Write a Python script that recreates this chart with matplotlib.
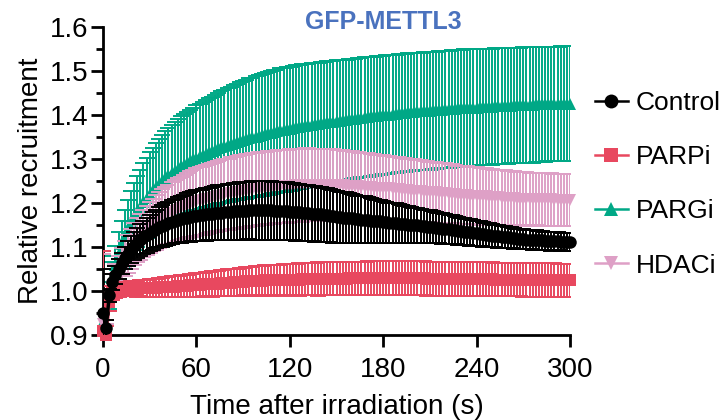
import numpy as np
import matplotlib
matplotlib.use("Agg")
from matplotlib import pyplot as plt
from matplotlib.lines import Line2D

plt.rcParams['font.family'] = ['Liberation Sans', 'DejaVu Sans']

# sampling times (s), one frame every 2 s
time = np.arange(0, 301, 2)

control_mean = [
    0.950,
    0.915, 0.990, 1.020, 1.036, 1.050, 1.063, 1.075, 1.085, 1.094, 1.102,
    1.109, 1.116, 1.122, 1.127, 1.132, 1.137, 1.141, 1.145, 1.148, 1.151,
    1.154, 1.157, 1.159, 1.161, 1.163, 1.165, 1.167, 1.168, 1.170, 1.171,
    1.172, 1.173, 1.174, 1.175, 1.176, 1.177, 1.178, 1.178, 1.179, 1.180,
    1.180, 1.181, 1.181, 1.182, 1.182, 1.182, 1.183, 1.183, 1.183, 1.183,
    1.183, 1.183, 1.183, 1.183, 1.182, 1.182, 1.182, 1.181, 1.181, 1.180,
    1.180, 1.179, 1.179, 1.178, 1.177, 1.177, 1.176, 1.175, 1.174, 1.174,
    1.173, 1.172, 1.171, 1.170, 1.169, 1.168, 1.167, 1.167, 1.166, 1.165,
    1.164, 1.163, 1.162, 1.162, 1.161, 1.160, 1.159, 1.158, 1.158, 1.157,
    1.156, 1.155, 1.155, 1.154, 1.153, 1.152, 1.152, 1.151, 1.150, 1.149,
    1.149, 1.148, 1.147, 1.146, 1.146, 1.145, 1.144, 1.143, 1.142, 1.141,
    1.140, 1.139, 1.138, 1.137, 1.136, 1.135, 1.134, 1.133, 1.132, 1.131,
    1.130, 1.129, 1.128, 1.127, 1.126, 1.125, 1.124, 1.123, 1.122, 1.122,
    1.121, 1.120, 1.119, 1.119, 1.118, 1.117, 1.117, 1.116, 1.116, 1.115,
    1.115, 1.114, 1.114, 1.113, 1.113, 1.113, 1.112, 1.112, 1.112, 1.112,
]
control_sem = [
    0.100,
    0.020, 0.015, 0.018, 0.020, 0.022, 0.024, 0.026, 0.028, 0.030, 0.032,
    0.034, 0.036, 0.038, 0.040, 0.041, 0.043, 0.044, 0.046, 0.047, 0.048,
    0.049, 0.050, 0.051, 0.052, 0.053, 0.054, 0.055, 0.056, 0.057, 0.058,
    0.058, 0.059, 0.060, 0.060, 0.061, 0.061, 0.062, 0.062, 0.063, 0.063,
    0.064, 0.064, 0.064, 0.065, 0.065, 0.065, 0.065, 0.066, 0.066, 0.066,
    0.066, 0.066, 0.066, 0.066, 0.066, 0.066, 0.066, 0.066, 0.066, 0.065,
    0.065, 0.065, 0.065, 0.064, 0.064, 0.064, 0.063, 0.063, 0.062, 0.062,
    0.061, 0.061, 0.060, 0.060, 0.059, 0.058, 0.058, 0.057, 0.056, 0.056,
    0.055, 0.054, 0.053, 0.053, 0.052, 0.051, 0.050, 0.049, 0.049, 0.048,
    0.047, 0.046, 0.045, 0.045, 0.044, 0.043, 0.042, 0.042, 0.041, 0.040,
    0.040, 0.039, 0.038, 0.038, 0.037, 0.036, 0.036, 0.035, 0.035, 0.034,
    0.033, 0.033, 0.032, 0.032, 0.031, 0.031, 0.030, 0.030, 0.029, 0.029,
    0.028, 0.028, 0.027, 0.027, 0.026, 0.026, 0.026, 0.025, 0.025, 0.024,
    0.024, 0.024, 0.023, 0.023, 0.023, 0.022, 0.022, 0.022, 0.022, 0.021,
    0.021, 0.021, 0.021, 0.021, 0.020, 0.020, 0.020, 0.020, 0.020, 0.020,
]

parpi_mean = [
    0.910,
    0.900, 0.975, 0.995, 1.000, 1.002, 1.003, 1.004, 1.004, 1.005, 1.005,
    1.005, 1.006, 1.006, 1.006, 1.007, 1.007, 1.007, 1.008, 1.008, 1.009,
    1.009, 1.010, 1.010, 1.011, 1.011, 1.012, 1.012, 1.013, 1.013, 1.014,
    1.014, 1.015, 1.015, 1.016, 1.016, 1.017, 1.017, 1.018, 1.018, 1.019,
    1.019, 1.020, 1.020, 1.021, 1.021, 1.022, 1.022, 1.022, 1.023, 1.023,
    1.023, 1.024, 1.024, 1.024, 1.025, 1.025, 1.025, 1.025, 1.026, 1.026,
    1.026, 1.026, 1.026, 1.027, 1.027, 1.027, 1.027, 1.027, 1.027, 1.028,
    1.028, 1.028, 1.028, 1.028, 1.028, 1.028, 1.028, 1.028, 1.029, 1.029,
    1.029, 1.029, 1.029, 1.029, 1.029, 1.029, 1.029, 1.029, 1.029, 1.029,
    1.029, 1.029, 1.029, 1.029, 1.029, 1.029, 1.029, 1.029, 1.029, 1.029,
    1.029, 1.029, 1.029, 1.028, 1.028, 1.028, 1.028, 1.028, 1.028, 1.028,
    1.028, 1.028, 1.028, 1.028, 1.028, 1.027, 1.027, 1.027, 1.027, 1.027,
    1.027, 1.027, 1.027, 1.027, 1.027, 1.026, 1.026, 1.026, 1.026, 1.026,
    1.026, 1.026, 1.026, 1.026, 1.025, 1.025, 1.025, 1.025, 1.025, 1.025,
    1.025, 1.025, 1.025, 1.025, 1.025, 1.024, 1.024, 1.024, 1.024, 1.024,
]
parpi_sem = [
    0.180,
    0.020, 0.020, 0.016, 0.015, 0.015, 0.015, 0.016, 0.016, 0.017, 0.017,
    0.018, 0.018, 0.019, 0.019, 0.020, 0.020, 0.021, 0.021, 0.022, 0.022,
    0.023, 0.023, 0.024, 0.024, 0.025, 0.025, 0.025, 0.026, 0.026, 0.027,
    0.027, 0.027, 0.028, 0.028, 0.029, 0.029, 0.029, 0.030, 0.030, 0.030,
    0.031, 0.031, 0.031, 0.032, 0.032, 0.032, 0.033, 0.033, 0.033, 0.034,
    0.034, 0.034, 0.034, 0.035, 0.035, 0.035, 0.035, 0.036, 0.036, 0.036,
    0.036, 0.036, 0.037, 0.037, 0.037, 0.037, 0.037, 0.037, 0.038, 0.038,
    0.038, 0.038, 0.038, 0.038, 0.038, 0.038, 0.038, 0.038, 0.038, 0.038,
    0.038, 0.038, 0.038, 0.038, 0.039, 0.039, 0.039, 0.039, 0.039, 0.039,
    0.039, 0.039, 0.039, 0.039, 0.039, 0.039, 0.039, 0.039, 0.039, 0.039,
    0.039, 0.039, 0.039, 0.039, 0.039, 0.039, 0.039, 0.039, 0.039, 0.039,
    0.039, 0.039, 0.039, 0.039, 0.039, 0.039, 0.039, 0.039, 0.039, 0.039,
    0.039, 0.039, 0.039, 0.039, 0.038, 0.038, 0.038, 0.038, 0.038, 0.038,
    0.038, 0.038, 0.038, 0.038, 0.038, 0.038, 0.038, 0.038, 0.038, 0.038,
    0.038, 0.038, 0.038, 0.038, 0.038, 0.038, 0.038, 0.038, 0.038, 0.038,
]

pargi_mean = [
    0.930,
    0.905, 0.990, 1.030, 1.060, 1.085, 1.106, 1.125, 1.141, 1.156, 1.169,
    1.181, 1.192, 1.202, 1.212, 1.221, 1.229, 1.237, 1.244, 1.251, 1.257,
    1.263, 1.268, 1.273, 1.278, 1.283, 1.287, 1.291, 1.295, 1.299, 1.303,
    1.306, 1.309, 1.312, 1.315, 1.318, 1.321, 1.324, 1.327, 1.329, 1.332,
    1.334, 1.337, 1.339, 1.341, 1.343, 1.345, 1.347, 1.349, 1.351, 1.353,
    1.355, 1.357, 1.358, 1.360, 1.362, 1.363, 1.365, 1.366, 1.368, 1.369,
    1.370, 1.372, 1.373, 1.374, 1.375, 1.377, 1.378, 1.379, 1.380, 1.381,
    1.382, 1.383, 1.384, 1.385, 1.386, 1.387, 1.388, 1.389, 1.390, 1.391,
    1.392, 1.393, 1.394, 1.395, 1.396, 1.397, 1.397, 1.398, 1.399, 1.400,
    1.401, 1.401, 1.402, 1.403, 1.404, 1.404, 1.405, 1.406, 1.406, 1.407,
    1.408, 1.408, 1.409, 1.409, 1.410, 1.411, 1.411, 1.412, 1.412, 1.413,
    1.413, 1.414, 1.414, 1.415, 1.415, 1.416, 1.416, 1.417, 1.417, 1.417,
    1.418, 1.418, 1.419, 1.419, 1.419, 1.420, 1.420, 1.420, 1.421, 1.421,
    1.421, 1.422, 1.422, 1.422, 1.423, 1.423, 1.423, 1.423, 1.424, 1.424,
    1.424, 1.424, 1.425, 1.425, 1.425, 1.425, 1.426, 1.426, 1.426, 1.426,
]
pargi_sem = [
    0.150,
    0.020, 0.030, 0.035, 0.042, 0.048, 0.054, 0.060, 0.066, 0.071, 0.076,
    0.080, 0.084, 0.088, 0.091, 0.094, 0.097, 0.100, 0.102, 0.104, 0.106,
    0.108, 0.110, 0.111, 0.113, 0.114, 0.115, 0.116, 0.117, 0.118, 0.119,
    0.120, 0.121, 0.122, 0.123, 0.124, 0.125, 0.126, 0.127, 0.128, 0.129,
    0.130, 0.131, 0.132, 0.133, 0.134, 0.135, 0.136, 0.136, 0.137, 0.138,
    0.138, 0.139, 0.139, 0.140, 0.140, 0.140, 0.141, 0.141, 0.141, 0.141,
    0.141, 0.141, 0.141, 0.141, 0.140, 0.140, 0.140, 0.140, 0.139, 0.139,
    0.139, 0.139, 0.138, 0.138, 0.138, 0.138, 0.137, 0.137, 0.137, 0.137,
    0.136, 0.136, 0.136, 0.136, 0.136, 0.135, 0.135, 0.135, 0.135, 0.135,
    0.135, 0.135, 0.134, 0.134, 0.134, 0.134, 0.134, 0.134, 0.134, 0.134,
    0.134, 0.134, 0.134, 0.134, 0.134, 0.133, 0.133, 0.133, 0.133, 0.133,
    0.133, 0.133, 0.133, 0.133, 0.133, 0.133, 0.133, 0.133, 0.133, 0.133,
    0.132, 0.132, 0.132, 0.132, 0.132, 0.132, 0.132, 0.132, 0.132, 0.132,
    0.131, 0.131, 0.131, 0.131, 0.131, 0.131, 0.131, 0.131, 0.131, 0.131,
    0.130, 0.130, 0.130, 0.130, 0.130, 0.130, 0.130, 0.130, 0.130, 0.130,
]

hdaci_mean = [
    0.925,
    0.905, 0.980, 1.010, 1.030, 1.046, 1.060, 1.073, 1.085, 1.096, 1.106,
    1.115, 1.123, 1.131, 1.138, 1.144, 1.150, 1.156, 1.161, 1.166, 1.170,
    1.174, 1.178, 1.182, 1.185, 1.188, 1.191, 1.194, 1.197, 1.199, 1.202,
    1.204, 1.206, 1.208, 1.210, 1.212, 1.214, 1.216, 1.217, 1.219, 1.220,
    1.222, 1.223, 1.224, 1.226, 1.227, 1.228, 1.229, 1.230, 1.231, 1.232,
    1.233, 1.234, 1.235, 1.235, 1.236, 1.237, 1.237, 1.238, 1.238, 1.239,
    1.239, 1.240, 1.240, 1.240, 1.241, 1.241, 1.241, 1.241, 1.241, 1.241,
    1.241, 1.241, 1.241, 1.241, 1.240, 1.240, 1.240, 1.239, 1.239, 1.239,
    1.238, 1.238, 1.237, 1.237, 1.236, 1.236, 1.235, 1.235, 1.234, 1.234,
    1.233, 1.233, 1.232, 1.231, 1.231, 1.230, 1.230, 1.229, 1.228, 1.228,
    1.227, 1.227, 1.226, 1.225, 1.225, 1.224, 1.224, 1.223, 1.222, 1.222,
    1.221, 1.221, 1.220, 1.219, 1.219, 1.218, 1.218, 1.217, 1.217, 1.216,
    1.216, 1.215, 1.215, 1.214, 1.214, 1.213, 1.213, 1.212, 1.212, 1.211,
    1.211, 1.211, 1.210, 1.210, 1.210, 1.209, 1.209, 1.209, 1.209, 1.208,
    1.208, 1.208, 1.208, 1.208, 1.207, 1.207, 1.207, 1.207, 1.207, 1.207,
]
hdaci_sem = [
    0.160,
    0.020, 0.025, 0.028, 0.031, 0.034, 0.037, 0.040, 0.043, 0.046, 0.048,
    0.050, 0.052, 0.054, 0.056, 0.058, 0.060, 0.062, 0.063, 0.065, 0.066,
    0.067, 0.069, 0.070, 0.071, 0.072, 0.073, 0.074, 0.075, 0.076, 0.077,
    0.077, 0.078, 0.078, 0.079, 0.079, 0.080, 0.080, 0.081, 0.081, 0.081,
    0.082, 0.082, 0.082, 0.082, 0.083, 0.083, 0.083, 0.083, 0.083, 0.083,
    0.083, 0.083, 0.083, 0.083, 0.083, 0.083, 0.083, 0.083, 0.083, 0.083,
    0.083, 0.083, 0.083, 0.083, 0.083, 0.083, 0.082, 0.082, 0.082, 0.082,
    0.082, 0.081, 0.081, 0.081, 0.080, 0.080, 0.080, 0.079, 0.079, 0.079,
    0.078, 0.078, 0.077, 0.077, 0.077, 0.076, 0.076, 0.075, 0.075, 0.075,
    0.074, 0.074, 0.073, 0.073, 0.073, 0.072, 0.072, 0.072, 0.071, 0.071,
    0.071, 0.070, 0.070, 0.070, 0.069, 0.069, 0.069, 0.068, 0.068, 0.068,
    0.067, 0.067, 0.067, 0.066, 0.066, 0.066, 0.065, 0.065, 0.065, 0.065,
    0.064, 0.064, 0.064, 0.063, 0.063, 0.063, 0.063, 0.062, 0.062, 0.062,
    0.062, 0.061, 0.061, 0.061, 0.061, 0.061, 0.060, 0.060, 0.060, 0.060,
    0.060, 0.060, 0.060, 0.060, 0.060, 0.060, 0.060, 0.060, 0.060, 0.060,
]

labels = ['Control', 'PARPi', 'PARGi', 'HDACi']
colors = ['#000000', '#E8485F', '#00A886', '#DEA0C6']
markers = ['o', 's', '^', 'v']
means = [control_mean, parpi_mean, pargi_mean, hdaci_mean]
sems = [control_sem, parpi_sem, pargi_sem, hdaci_sem]
# back to front: PARGi, HDACi, PARPi, Control
zorders = [8, 6, 2, 4]

fig = plt.figure(figsize=(7.24, 4.2), dpi=100)
ax = fig.add_axes([0.1423, 0.2024, 0.645, 0.7333])

for m, s, c, mk, z in zip(means, sems, colors, markers, zorders):
    ax.errorbar(time, m, yerr=s, fmt='none', ecolor=c, elinewidth=1.4,
                capsize=5.5, capthick=1.4, zorder=z)
    ax.plot(time, m, color=c, marker=mk, markersize=9, lw=2.5,
            markeredgewidth=0, zorder=z + 1, clip_on=False)

ax.set_xlim(0, 300)
ax.set_ylim(0.9, 1.6)
ax.set_xticks([0, 60, 120, 180, 240, 300])
ax.set_yticks(np.arange(0.9, 1.61, 0.1))
ax.set_yticks(np.arange(0.95, 1.6, 0.1), minor=True)
ax.yaxis.set_major_formatter(matplotlib.ticker.FormatStrFormatter('%.1f'))

for side in ['top', 'right']:
    ax.spines[side].set_visible(False)
for side in ['left', 'bottom']:
    ax.spines[side].set_linewidth(2.0)
ax.tick_params(axis='both', which='major', length=8.5, width=2.0,
               labelsize=20, colors='black')
ax.tick_params(axis='y', which='major', pad=2)
ax.tick_params(axis='x', which='major', pad=7)
ax.tick_params(axis='y', which='minor', length=5, width=2.0)

ax.set_xlabel('Time after irradiation (s)', fontsize=20, labelpad=8)
ax.set_ylabel('Relative recruitment', fontsize=20, labelpad=4)

fig.text(0.529, 0.948, 'GFP-METTL3', color='#4A72BE', fontsize=18,
         fontweight='bold', ha='center', va='center')

handles = [Line2D([], [], color=c, marker=mk, markersize=10, lw=1.8,
                  markeredgewidth=0) for c, mk in zip(colors, markers)]
ax.legend(handles, labels, loc='center left', bbox_to_anchor=(1.03, 0.489),
          frameon=False, fontsize=19, handlelength=1.25, handletextpad=0.3,
          labelspacing=1.14, borderaxespad=0)

fig.savefig('out.png', dpi=100)
